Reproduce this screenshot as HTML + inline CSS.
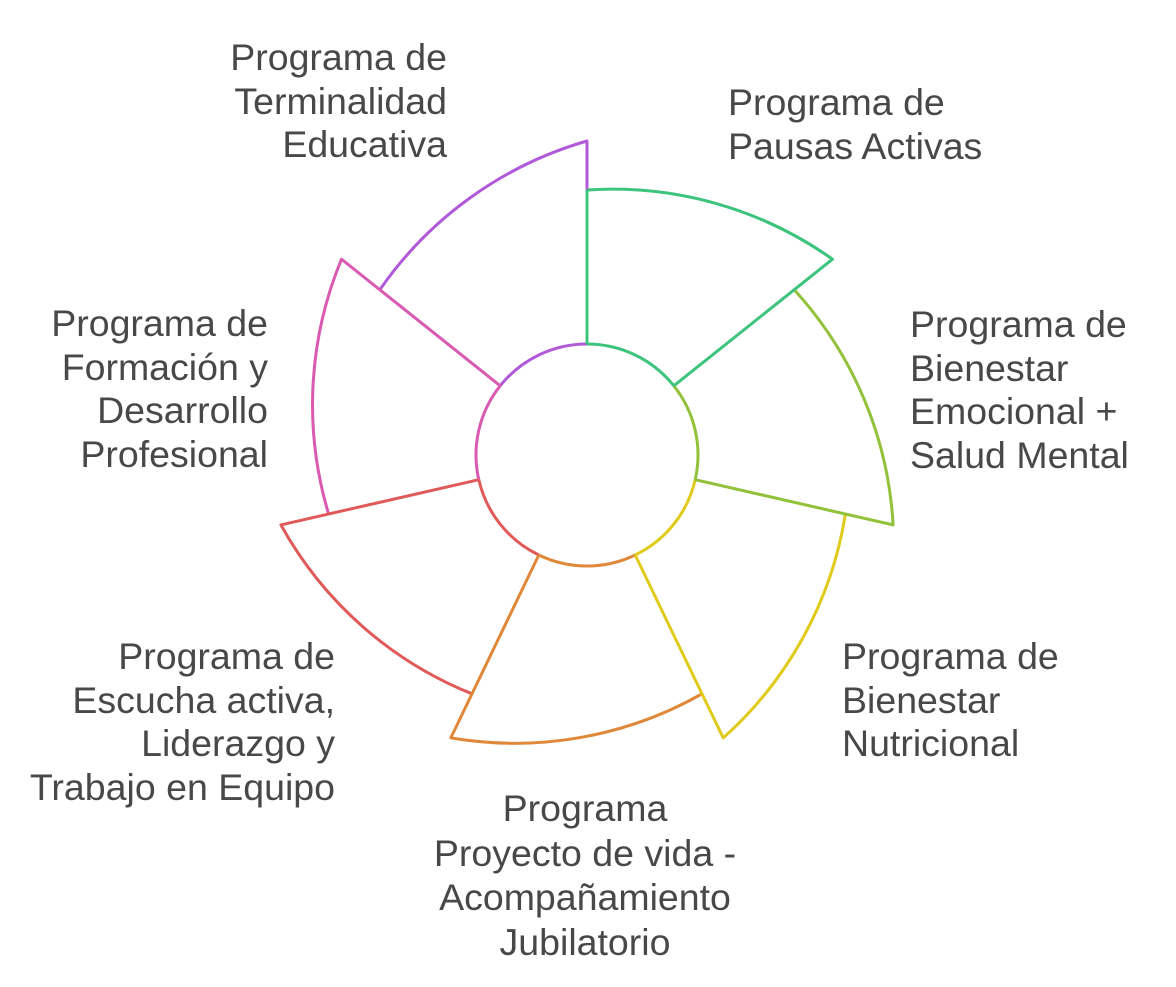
<!DOCTYPE html>
<html><head><meta charset="utf-8"><style>
body{margin:0;background:#fff;width:1176px;height:987px;overflow:hidden;position:relative;font-family:"Liberation Sans",sans-serif;}
.t{position:absolute;font-size:37.5px;line-height:43.5px;color:#484848;white-space:nowrap;}
svg{position:absolute;left:0;top:0}
</style></head><body>
<svg id="s" width="1176" height="987" viewBox="0 0 1176 987"></svg>
<div class="t" style="right:729px;top:36px;text-align:right">Programa de<br>Terminalidad<br>Educativa</div>
<div class="t" style="left:728px;top:81px">Programa de<br>Pausas Activas</div>
<div class="t" style="left:910px;top:303px">Programa de<br>Bienestar<br>Emocional +<br>Salud Mental</div>
<div class="t" style="left:842px;top:635px">Programa de<br>Bienestar<br>Nutricional</div>
<div class="t" style="left:385px;width:400px;top:786px;text-align:center;line-height:44.5px">Programa<br>Proyecto de vida -<br>Acompañamiento<br>Jubilatorio</div>
<div class="t" style="right:841px;top:635px;text-align:right">Programa de<br>Escucha activa,<br>Liderazgo y<br>Trabajo en Equipo</div>
<div class="t" style="right:908px;top:302px;text-align:right">Programa de<br>Formación y<br>Desarrollo<br>Profesional</div>
<script>
(function(){
var cx=587,cy=455,ri=111,r0=265,r1=314,D=360/7;
var cols=["#3cc47c","#92c13a","#e0cb1b","#e0883a","#e05a5a","#d95ab0","#b05ad9"];
function p(a,r){var t=a*Math.PI/180;return [(cx+r*Math.sin(t)).toFixed(1),(cy-r*Math.cos(t)).toFixed(1)];}
var out="";
for(var i=6;i>=0;i--){
 var a0=i*D,a1=a0+D,c=cols[i];
 var d="M"+p(a0,r0).join(",")+" A380,380 0 0 1 "+p(a1,r1).join(",")+" L"+p(a1,ri).join(",");
 out+='<path d="'+d+'" fill="none" stroke="'+c+'" stroke-width="3" stroke-linejoin="round"/>';
 var s=p(a0,ri),e=p(a1,ri);
 out+='<path d="M'+s+' A'+ri+','+ri+' 0 0 1 '+e+'" fill="none" stroke="'+c+'" stroke-width="3"/>';
 if(i==0){out+='<line x1="'+p(0,ri)[0]+'" y1="'+p(0,ri)[1]+'" x2="'+p(0,r0)[0]+'" y2="'+p(0,r0)[1]+'" stroke="'+c+'" stroke-width="3"/>';}
}
document.getElementById("s").innerHTML=out;
})();
</script>
</body></html>
